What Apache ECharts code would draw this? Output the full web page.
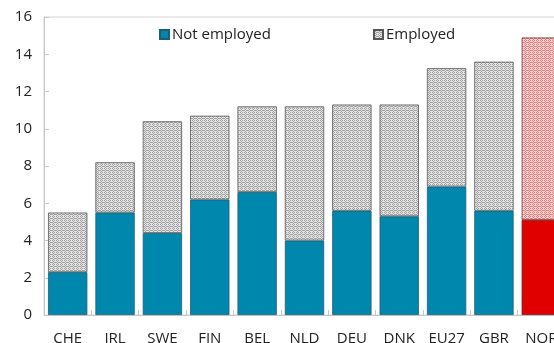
<!DOCTYPE html>
<html>
<head>
<meta charset="utf-8">
<script src="https://cdn.jsdelivr.net/npm/echarts@6/dist/echarts.min.js"></script>
<style>
  html, body { margin: 0; padding: 0; background: #fff; overflow: hidden; }
  #chart { width: 554px; height: 343px; }
</style>
</head>
<body>
<div id="chart"></div>
<script>
// Share of population (%) by country, split by employment status
const categories  = ['CHE', 'IRL', 'SWE', 'FIN', 'BEL', 'NLD', 'DEU', 'DNK', 'EU27', 'GBR', 'NOR'];
const notEmployed = [2.3, 5.5, 4.4, 6.2, 6.6, 4.0, 5.6, 5.3, 6.9, 5.6, 5.1];
const employed    = [3.2, 2.7, 6.0, 4.5, 4.6, 7.2, 5.7, 6.0, 6.35, 8.0, 9.8];
const highlighted = 'NOR';
const yTicks = [0, 2, 4, 6, 8, 10, 12, 14, 16];

// Small stippled tile used as a repeating fill
function stipple(base, dot) {
  const c = document.createElement('canvas');
  c.width = 4; c.height = 4;
  const g = c.getContext('2d');
  g.fillStyle = base;
  g.fillRect(0, 0, 4, 4);
  g.fillStyle = dot;
  [[0,0],[2,0],[1,1],[3,2],[0,2],[2,2],[1,3]].forEach(function (p) { g.fillRect(p[0], p[1], 1, 1); });
  return { image: c, repeat: 'repeat' };
}

const teal = '#0087ae';
const red = '#e00000';
const grayPattern = stipple('#e4e4e4', '#a0a0a0');
const redPattern = stipple('#ffd6d6', '#f07878');

const chart = echarts.init(document.getElementById('chart'), null, { renderer: 'canvas' });

const textFont = { fontFamily: 'Open Sans', fontSize: 15, color: '#222' };

chart.setOption({
  animation: false,
  grid: {
    // the plot runs past the right and bottom edges of the canvas, so the last bar
    // and the category labels are clipped
    left: 44, top: 17, height: 298, width: 521,
    outerBoundsMode: 'none',
    show: true, borderColor: '#d4d4d4', borderWidth: 1, backgroundColor: 'transparent'
  },
  legend: {
    left: 154, top: 22,
    itemWidth: 9, itemHeight: 9, itemGap: 102,
    icon: 'rect',
    textStyle: Object.assign({}, textFont, { padding: [0, 0, 0, -2] }),
    data: ['Not employed', 'Employed']
  },
  xAxis: {
    type: 'category',
    data: categories,
    axisLine: { lineStyle: { color: '#c8c8c8', width: 1 } },
    axisTick: { show: true, inside: true, length: 5, alignWithLabel: false, lineStyle: { color: '#c8c8c8' } },
    axisLabel: Object.assign({}, textFont, { margin: 16, interval: 0 })
  },
  yAxis: {
    type: 'value',
    min: yTicks[0], max: yTicks[yTicks.length - 1], interval: 2,
    axisLine: { show: true, lineStyle: { color: '#c8c8c8', width: 1 } },
    axisTick: { show: true, inside: true, length: 5, lineStyle: { color: '#c8c8c8' } },
    splitLine: { show: false },
    axisLabel: Object.assign({}, textFont, { margin: 12 })
  },
  series: [
    {
      name: 'Not employed',
      type: 'bar',
      stack: 'total',
      barWidth: '83%',
      itemStyle: { color: teal, borderColor: '#1d5e74', borderWidth: 0.8 },
      data: notEmployed.map(function (v, i) {
        return categories[i] === highlighted
          ? { value: v, itemStyle: { color: red, borderColor: '#7a1010' } }
          : v;
      })
    },
    {
      name: 'Employed',
      type: 'bar',
      stack: 'total',
      barWidth: '83%',
      itemStyle: { color: grayPattern, borderColor: '#555', borderWidth: 0.8 },
      data: employed.map(function (v, i) {
        return categories[i] === highlighted
          ? { value: v, itemStyle: { color: redPattern, borderColor: '#6a3030' } }
          : v;
      })
    }
  ]
});
</script>
</body>
</html>
